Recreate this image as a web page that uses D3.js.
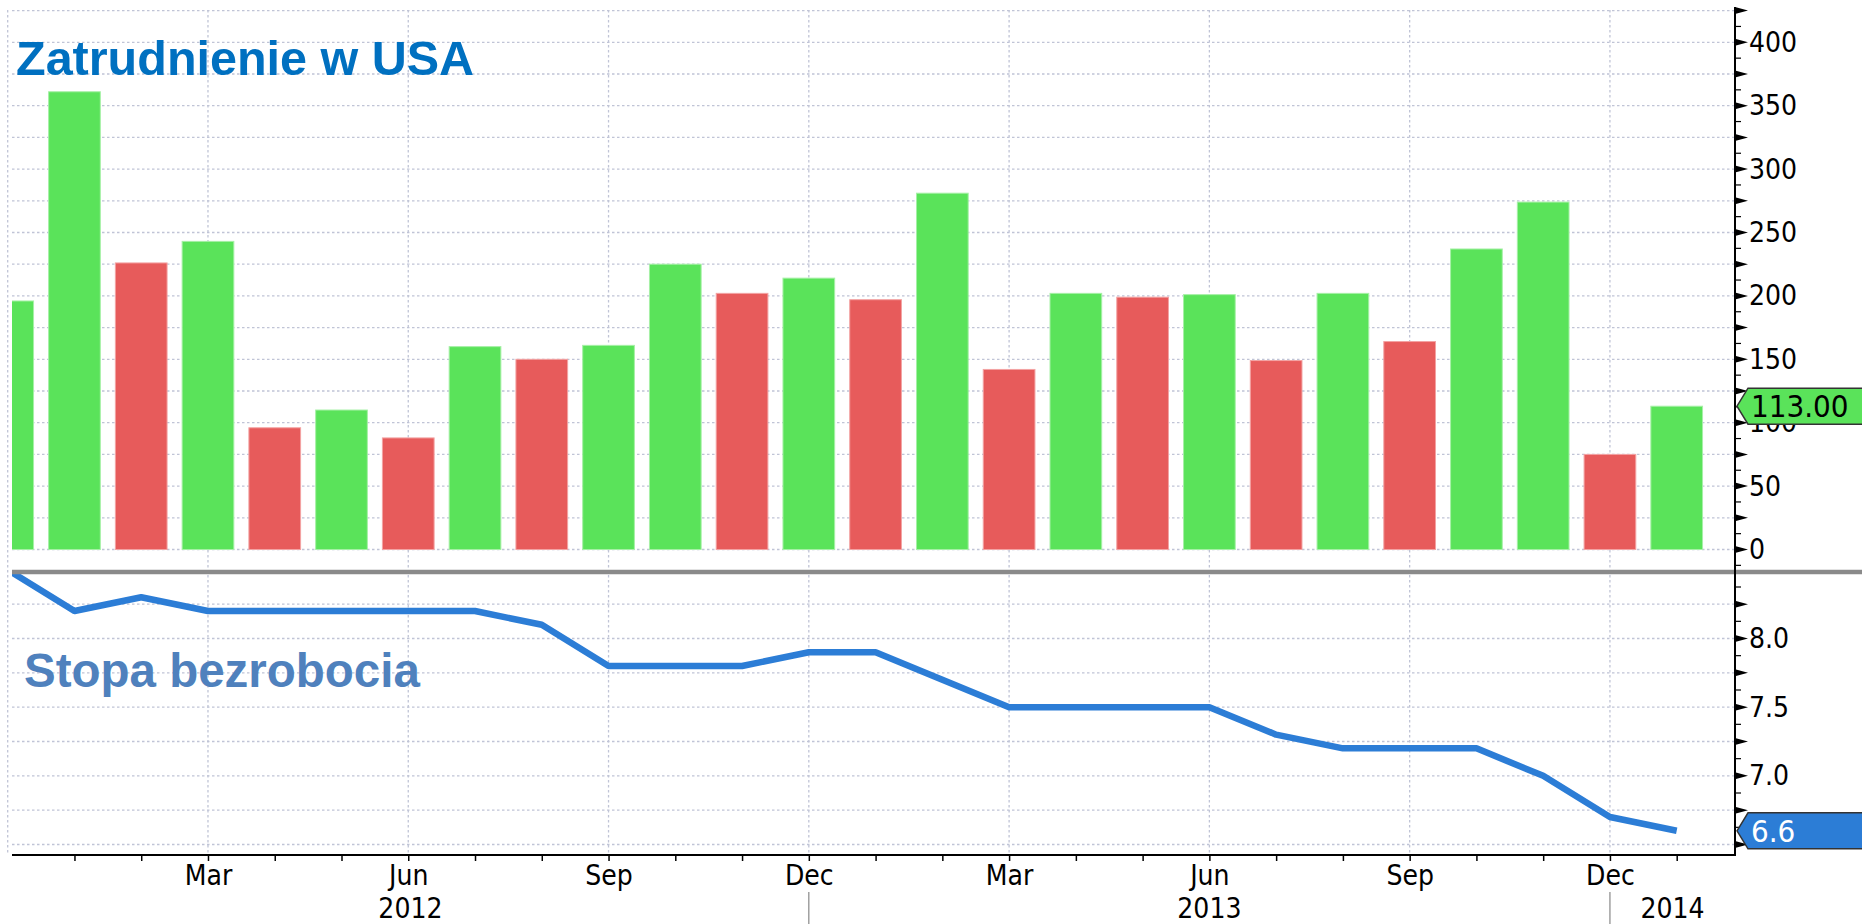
<!DOCTYPE html>
<html>
<head>
<meta charset="utf-8">
<script src="https://cdnjs.cloudflare.com/ajax/libs/d3/7.8.5/d3.min.js"></script>
<style>
body { margin: 0; background: #fff; }
svg { display: block; }
.lbl { font-family: "DejaVu Sans Condensed", "DejaVu Sans", sans-serif; font-size: 28px; font-stretch: condensed; }
.title { font-family: "Liberation Sans", Arial, sans-serif; font-weight: bold; }
</style>
</head>
<body>
<div id="chart"></div>
<script>
// months from Dec 2011 to Jan 2014
var months = ["2011-12", "2012-01", "2012-02", "2012-03", "2012-04", "2012-05", "2012-06",
    "2012-07", "2012-08", "2012-09", "2012-10", "2012-11", "2012-12", "2013-01", "2013-02",
    "2013-03", "2013-04", "2013-05", "2013-06", "2013-07", "2013-08", "2013-09", "2013-10",
    "2013-11", "2013-12", "2014-01"];

// nonfarm payrolls change, thousands
var payrolls = [196, 361, 226, 243, 96, 110, 88, 160, 150, 161, 225, 202, 214,
    197, 281, 142, 202, 199, 201, 149, 202, 164, 237, 274, 75, 113];

// unemployment rate, %
var unemployment = [8.5, 8.2, 8.3, 8.2, 8.2, 8.2, 8.2, 8.2, 8.1, 7.8, 7.8, 7.8, 7.9,
    7.9, 7.7, 7.5, 7.5, 7.5, 7.5, 7.3, 7.2, 7.2, 7.2, 7.0, 6.7, 6.6];

var monthNames = ["Jan", "Feb", "Mar", "Apr", "May", "Jun", "Jul", "Aug", "Sep", "Oct", "Nov", "Dec"];
var topTicks = [0, 50, 100, 150, 200, 250, 300, 350, 400];
var bottomTicks = [7.0, 7.5, 8.0];
var titleTop = "Zatrudnienie w USA";
var titleBottom = "Stopa bezrobocia";

var svgWidth = 1862;
var svgHeight = 924;

var plotLeft = 12;
var plotRight = 1735;
var sepY = 572;
var axisY = 855;

var svg = d3.select("#chart")
    .append("svg")
    .attr("width", svgWidth)
    .attr("height", svgHeight);

var xScale = d3.scaleLinear()
    .domain([0, 25])
    .range([7.7, 7.7 + 25 * 66.76]);

var yTop = d3.scaleLinear()
    .domain([0, 400])
    .range([549.5, 42.3]);

var yBot = d3.scaleLinear()
    .domain([6.5, 8.0])
    .range([844.5, 638.5]);

var defs = svg.append("defs");
defs.append("clipPath").attr("id", "clipTop")
    .append("rect").attr("x", plotLeft).attr("y", 0)
    .attr("width", plotRight - plotLeft).attr("height", sepY);
defs.append("clipPath").attr("id", "clipBot")
    .append("rect").attr("x", plotLeft).attr("y", sepY)
    .attr("width", plotRight - plotLeft).attr("height", axisY - sepY);

var gridColor = "#c0c4d6";

// horizontal grid
var grid = svg.append("g");
grid.selectAll(".hgt")
    .data(d3.range(0, 426, 25))
    .enter().append("line")
    .attr("x1", plotLeft).attr("x2", plotRight)
    .attr("y1", d => yTop(d)).attr("y2", d => yTop(d))
    .attr("stroke", gridColor).attr("stroke-width", 1.3)
    .attr("stroke-dasharray", "2.5,2.5");

grid.selectAll(".hgb")
    .data(d3.range(6.5, 8.26, 0.25))
    .enter().append("line")
    .attr("x1", plotLeft).attr("x2", plotRight)
    .attr("y1", d => yBot(d)).attr("y2", d => yBot(d))
    .attr("stroke", gridColor).attr("stroke-width", 1.3)
    .attr("stroke-dasharray", "2.5,2.5");

// vertical grid every quarter
var quarterIdx = months.map((m, i) => i).filter(i => +months[i].slice(5) % 3 === 0);
grid.selectAll(".vg")
    .data(quarterIdx)
    .enter().append("line")
    .attr("x1", d => xScale(d)).attr("x2", d => xScale(d))
    .attr("y1", 10).attr("y2", axisY)
    .attr("stroke", gridColor).attr("stroke-width", 1.3)
    .attr("stroke-dasharray", "2.5,2.5");

// bars
var barW = 51.7;
svg.append("g")
    .attr("clip-path", "url(#clipTop)")
    .selectAll("rect")
    .data(payrolls)
    .enter().append("rect")
    .attr("x", (d, i) => xScale(i) - barW / 2)
    .attr("width", barW)
    .attr("y", d => yTop(d))
    .attr("height", d => yTop(0) - yTop(d))
    .attr("fill", (d, i) => (i > 0 && d < payrolls[i - 1]) ? "#e75b5b" : "#5ae35a")
    .attr("stroke", (d, i) => (i > 0 && d < payrolls[i - 1]) ? "#f3a3a3" : "#a6f0a6")
    .attr("stroke-width", 1);

// unemployment line
var line = d3.line()
    .x((d, i) => xScale(i))
    .y(d => yBot(d));

svg.append("g")
    .attr("clip-path", "url(#clipBot)")
    .append("path")
    .datum(unemployment)
    .attr("d", line)
    .attr("fill", "none")
    .attr("stroke", "#2c7dd6")
    .attr("stroke-width", 6.5)
    .attr("stroke-linejoin", "round");

// separator
svg.append("line")
    .attr("x1", plotLeft).attr("x2", svgWidth)
    .attr("y1", sepY).attr("y2", sepY)
    .attr("stroke", "#8a8a8a").attr("stroke-width", 4.5);

// x axis
var xAxis = d3.axisBottom(xScale)
    .tickValues(d3.range(1, 26))
    .tickSize(6)
    .tickPadding(4)
    .tickFormat(i => quarterIdx.indexOf(i) >= 0 ? monthNames[+months[i].slice(5) - 1] : "");

var gx = svg.append("g")
    .attr("class", "lbl")
    .attr("transform", `translate(0, ${axisY})`)
    .call(xAxis);
gx.select(".domain").remove();
gx.selectAll("text").attr("fill", "#000").style("font-size", "28px");
gx.selectAll("line").attr("stroke", "#000").attr("stroke-width", 1.5);

svg.append("line")
    .attr("x1", plotLeft).attr("x2", plotRight + 1)
    .attr("y1", axisY).attr("y2", axisY)
    .attr("stroke", "#000").attr("stroke-width", 2);

// years
var yearBreaks = months.map((m, i) => i).filter(i => months[i].slice(5) === "12" && i > 0);
var edges = [plotLeft].concat(yearBreaks.map(i => xScale(i))).concat([plotRight]);
var years = [0].concat(yearBreaks).map(i => months[i + 1].slice(0, 4));

svg.selectAll(".ydiv")
    .data(yearBreaks)
    .enter().append("line")
    .attr("x1", d => xScale(d)).attr("x2", d => xScale(d))
    .attr("y1", 892).attr("y2", svgHeight)
    .attr("stroke", "#888").attr("stroke-width", 1.2);

svg.selectAll(".year")
    .data(years)
    .enter().append("text")
    .attr("class", "lbl")
    .attr("x", (d, k) => (edges[k] + edges[k + 1]) / 2)
    .attr("y", 918)
    .attr("text-anchor", "middle")
    .text(d => d);

// right axis
svg.append("line")
    .attr("x1", plotRight).attr("x2", plotRight)
    .attr("y1", 7).attr("y2", axisY + 1)
    .attr("stroke", "#000").attr("stroke-width", 2);

function arrows(values, scale) {
    svg.append("g").selectAll("path")
        .data(values)
        .enter().append("path")
        .attr("d", d => `M${plotRight},${scale(d) - 3.5}L${plotRight + 13},${scale(d)}L${plotRight},${scale(d) + 3.5}Z`)
        .attr("fill", "#000");
}
function minors(values, scale) {
    svg.append("g").selectAll("line")
        .data(values)
        .enter().append("line")
        .attr("x1", plotRight).attr("x2", plotRight + 6)
        .attr("y1", d => scale(d)).attr("y2", d => scale(d))
        .attr("stroke", "#000").attr("stroke-width", 1.2);
}

arrows(d3.range(0, 426, 25), yTop);
minors(d3.range(-12.5, 430, 25), yTop);
arrows(d3.range(6.5, 8.26, 0.25), yBot);
minors(d3.range(6.625, 8.4, 0.25), yBot);

var gyTop = svg.append("g")
    .attr("class", "lbl")
    .attr("transform", `translate(${plotRight}, 0)`)
    .call(d3.axisRight(yTop).tickValues(topTicks).tickSize(0).tickPadding(14));
gyTop.select(".domain").remove();
gyTop.selectAll("text").style("font-size", "28px").attr("fill", "#000");

var gyBot = svg.append("g")
    .attr("class", "lbl")
    .attr("transform", `translate(${plotRight}, 0)`)
    .call(d3.axisRight(yBot).tickValues(bottomTicks).tickSize(0).tickPadding(14).tickFormat(d3.format(".1f")));
gyBot.select(".domain").remove();
gyBot.selectAll("text").style("font-size", "28px").attr("fill", "#000");

// last value tags (drawn over the axis labels, as in the original)
function tag(cy, label, fill, textColor) {
    var h = 18;
    svg.append("path")
        .attr("d", `M${plotRight + 2},${cy}L${plotRight + 13},${cy - h}L${svgWidth + 2},${cy - h}L${svgWidth + 2},${cy + h}L${plotRight + 13},${cy + h}Z`)
        .attr("fill", fill)
        .attr("stroke", "#333")
        .attr("stroke-width", 1.5);
    svg.append("text")
        .attr("class", "lbl")
        .attr("x", plotRight + 16)
        .attr("y", cy)
        .attr("dy", "0.36em")
        .style("font-size", "31px")
        .attr("fill", textColor)
        .text(label);
}
tag(yTop(payrolls[payrolls.length - 1]), payrolls[payrolls.length - 1].toFixed(2), "#5ae35a", "#000");
tag(yBot(unemployment[unemployment.length - 1]), unemployment[unemployment.length - 1].toFixed(1), "#2c7dd6", "#fff");

// titles
svg.append("text")
    .attr("class", "title")
    .attr("x", 16).attr("y", 75)
    .style("font-size", "48.5px")
    .attr("fill", "#0070c0")
    .text(titleTop);

svg.append("text")
    .attr("class", "title")
    .attr("x", 24).attr("y", 687)
    .style("font-size", "47.5px")
    .attr("fill", "#4f81bd")
    .text(titleBottom);
</script>
</body>
</html>
